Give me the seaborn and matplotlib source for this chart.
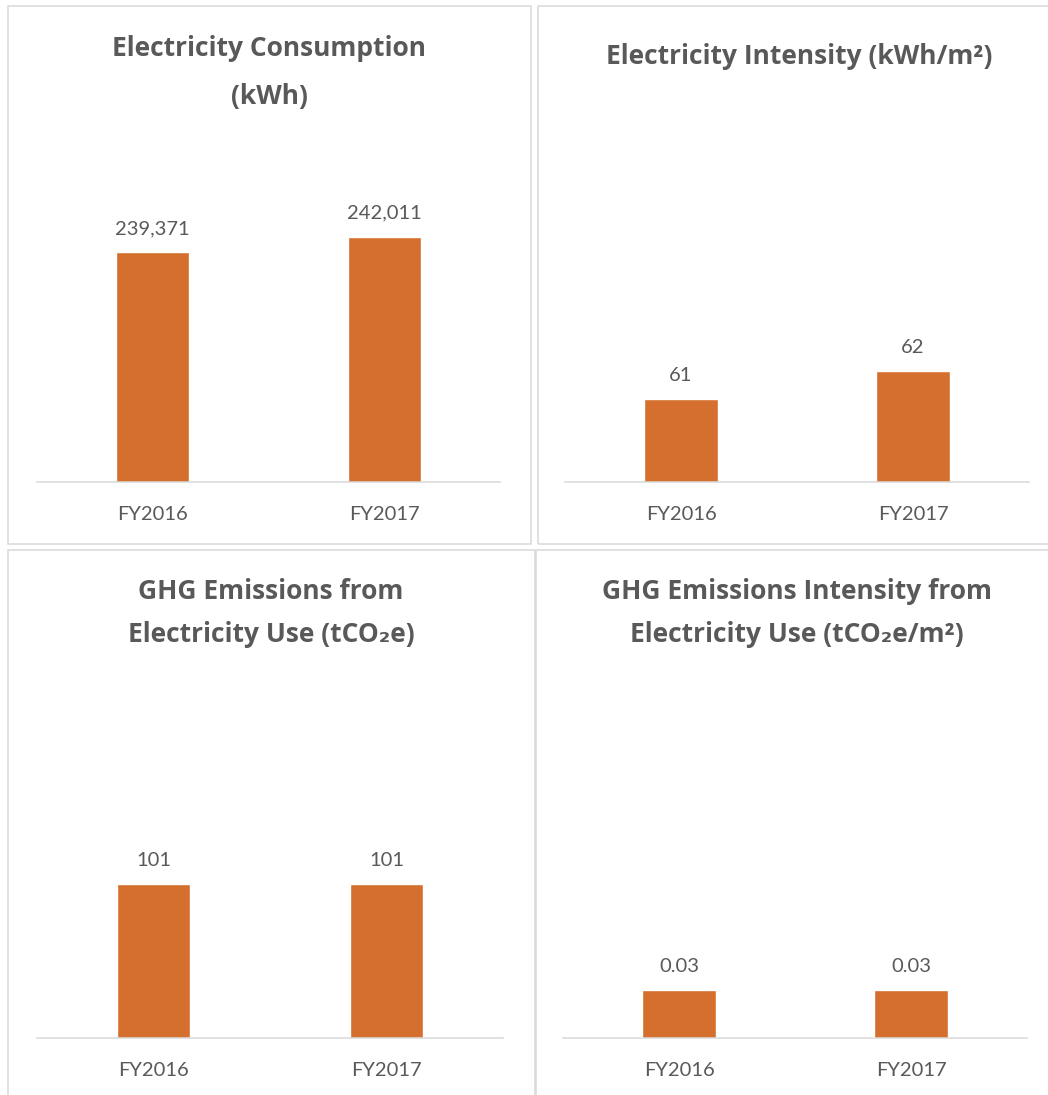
import matplotlib
matplotlib.use("Agg")
import matplotlib.pyplot as plt
from matplotlib.patches import Rectangle
import seaborn as sns
import pandas as pd

# ---- data -------------------------------------------------------------
years = ["FY2016", "FY2017"]
consumption_kwh = [239371, 242011]
intensity_kwh_m2 = [61, 62]
ghg_tco2e = [101, 101]
ghg_intensity_tco2e_m2 = [0.03, 0.03]

titles = [
    ["Electricity Consumption", "(kWh)"],
    ["Electricity Intensity (kWh/m\u00b2)"],
    ["GHG Emissions from", "Electricity Use (tCO\u2082e)"],
    ["GHG Emissions Intensity from", "Electricity Use (tCO\u2082e/m\u00b2)"],
]
label_formats = ["{:,.0f}", "{:.0f}", "{:.0f}", "{:.2f}"]
series = [consumption_kwh, intensity_kwh_m2, ghg_tco2e, ghg_intensity_tco2e_m2]

# ---- style ------------------------------------------------------------
BAR = "#D46F2D"
TEXT = "#595959"
GRID = "#D9D9D9"

sns.set_theme(style="white")
plt.rcParams["font.family"] = ["Lato", "DejaVu Sans"]
TITLE_FONT = ["Open Sans", "DejaVu Sans"]

W, H = 1048, 1095
fig = plt.figure(figsize=(W / 100, H / 100), dpi=100)
fig.patch.set_facecolor("white")


def px_rect(x0, y0, x1, y1):
    """Pixel box (top-down) -> figure fraction [left, bottom, width, height]."""
    return [x0 / W, 1 - y1 / H, (x1 - x0) / W, (y1 - y0) / H]


# layout of each chart: frame box, plot box, title centre x, title baselines,
# value-axis range
panels = [
    dict(frame=(8, 6, 531, 544), plot=(37, 190, 500, 482),
         tx=269.5, ty=[56, 104], ylim=(200000, 250000)),
    dict(frame=(538, 6, 1062, 544), plot=(565, 190, 1029, 482),
         tx=799, ty=[64], ylim=(58, 68.5)),
    dict(frame=(8, 550, 534.5, 1110), plot=(37, 734.5, 503, 1037.5),
         tx=271, ty=[599, 642], ylim=(0, 200)),
    dict(frame=(536, 550, 1062, 1110), plot=(563, 734.5, 1027, 1037.5),
         tx=797, ty=[599, 642], ylim=(0, 0.19)),
]

for spec, values, title_lines, fmt in zip(panels, series, titles, label_formats):
    fig.add_artist(Rectangle(
        (spec["frame"][0] / W, 1 - spec["frame"][3] / H),
        (spec["frame"][2] - spec["frame"][0]) / W,
        (spec["frame"][3] - spec["frame"][1]) / H,
        transform=fig.transFigure, fill=False, ec=GRID, lw=1.1, zorder=0))

    ax = fig.add_axes(px_rect(*spec["plot"]))
    ax.set_facecolor("none")
    df = pd.DataFrame({"year": years, "value": values})
    sns.barplot(data=df, x="year", y="value", color=BAR, saturation=1,
                width=0.315, errorbar=None, ax=ax)
    ax.set_xlim(-0.5, 1.5)
    ax.set_ylim(*spec["ylim"])
    ax.set_xlabel("")
    ax.set_ylabel("")
    ax.set_yticks([])
    ax.tick_params(axis="x", length=0, pad=17.5, labelsize=14.5, labelcolor=TEXT)
    for side in ("left", "right", "top"):
        ax.spines[side].set_visible(False)
    ax.spines["bottom"].set_color(GRID)
    ax.spines["bottom"].set_linewidth(1.1)

    for patch, v in zip(ax.patches, values):
        ax.annotate(fmt.format(v),
                    xy=(patch.get_x() + patch.get_width() / 2, v),
                    xytext=(0, 13), textcoords="offset points",
                    ha="center", va="baseline", fontsize=14.5, color=TEXT)

    for line, y in zip(title_lines, spec["ty"]):
        fig.text(spec["tx"] / W, 1 - y / H, line, ha="center", va="baseline",
                 fontsize=19, fontweight="bold", color=TEXT,
                 family=TITLE_FONT)

fig.savefig("out.png", dpi=100, facecolor="white")
